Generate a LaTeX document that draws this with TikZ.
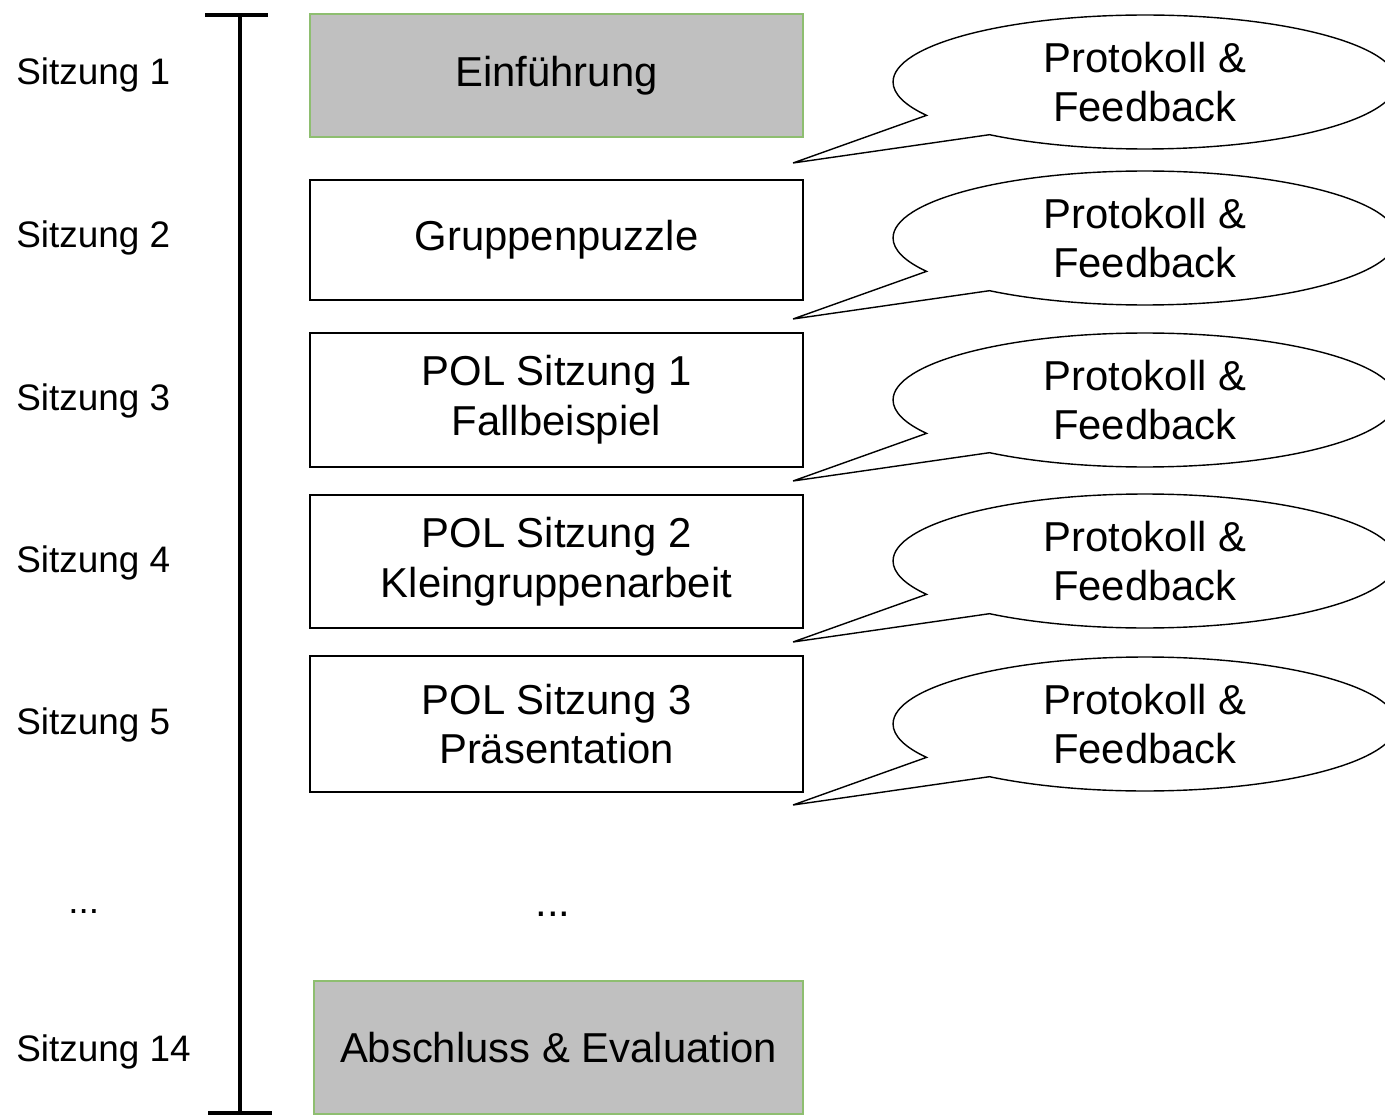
\documentclass[tikz,border=0pt]{standalone}
\usepackage{fontspec}
\setmainfont{Liberation Sans}
\usetikzlibrary{shapes.callouts}
\definecolor{boxgray}{RGB}{192,192,192}
\definecolor{boxgreen}{RGB}{142,190,112}
\tikzset{
  session/.style={anchor=west, inner sep=0pt, font=\fontsize{21}{25}\selectfont},
  unit/.style={draw, line width=0.8pt, minimum width=9.86cm, align=center,
    font=\fontsize{23.8}{28.3}\selectfont},
  keyunit/.style={unit, fill=boxgray, draw=boxgreen},
  bubble/.style={ellipse callout, draw, line width=0.8pt, minimum width=10.08cm,
    minimum height=2.68cm, inner sep=0pt, align=center, callout pointer arc=22,
    font=\fontsize{23.8}{28.3}\selectfont},
  timeline/.style={line width=2.3pt}
}
\begin{document}
\begin{tikzpicture}[x=0.02cm,y=-0.02cm]
  \useasboundingbox (0,0) rectangle (1385,1118);
  % time axis
  \coordinate (start) at (240,15);
  \coordinate (end) at (240,1113);
  \draw[timeline] (start) -- (end);
  \draw[timeline] (start) ++(-35,0) -- ++(63,0);
  \draw[timeline] (end) ++(-32,0) -- ++(64,0);
  % sessions
  \node[session] (s1) at (16,75) {Sitzung 1};
  \node[session] (s2) at (16,238) {Sitzung 2};
  \node[session] (s3) at (16,401) {Sitzung 3};
  \node[session] (s4) at (16,563) {Sitzung 4};
  \node[session] (s5) at (16,725) {Sitzung 5};
  \node[session] (sdots) at (68,912) {...};
  \node[session] (s14) at (16,1052) {Sitzung 14};
  % units
  \node[keyunit, minimum height=2.46cm] (u1) at (556.5,75.5) {Einführung};
  \node[unit, minimum height=2.4cm] (u2) at (556.5,240) {Gruppenpuzzle};
  \node[unit, minimum height=2.68cm] (u3) at (556.5,400) {POL Sitzung 1\\Fallbeispiel};
  \node[unit, minimum height=2.66cm] (u4) at (556.5,561.5) {POL Sitzung 2\\Kleingruppenarbeit};
  \node[unit, minimum height=2.72cm] (u5) at (556.5,724) {POL Sitzung 3\\Präsentation};
  \node[font=\fontsize{23.8}{28.3}\selectfont] (udots) at (553,914) {...};
  \node[keyunit, minimum width=9.78cm, minimum height=2.66cm] (u14) at (558.5,1047.5) {Abschluss \& Evaluation};
  % feedback bubbles
  \foreach \i/\y in {1/82,2/238,3/400,4/561,5/724} {
    \coordinate (tip\i) at (793,\y+81);
    \node[bubble, callout absolute pointer={(tip\i)}] (fb\i) at (1145,\y) {Protokoll \&\\Feedback};
  }
\end{tikzpicture}
\end{document}
